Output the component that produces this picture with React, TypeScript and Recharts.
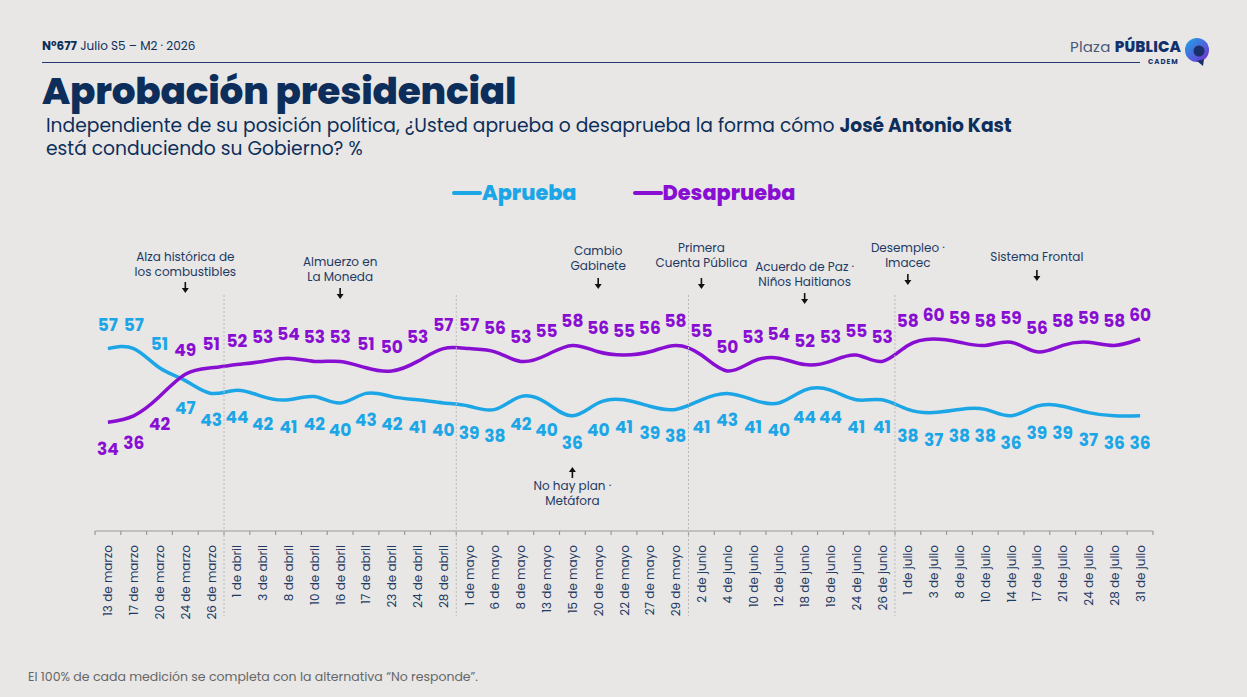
import React from "react";
import { LineChart, Line, XAxis, YAxis, LabelList, ReferenceDot } from "recharts";

const dates = [
  "13 de marzo", "17 de marzo", "20 de marzo", "24 de marzo", "26 de marzo",
  "1 de abril", "3 de abril", "8 de abril", "10 de abril", "16 de abril", "17 de abril", "23 de abril", "24 de abril", "28 de abril",
  "1 de mayo", "6 de mayo", "8 de mayo", "13 de mayo", "15 de mayo", "20 de mayo", "22 de mayo", "27 de mayo", "29 de mayo",
  "2 de junio", "4 de junio", "10 de junio", "12 de junio", "18 de junio", "19 de junio", "24 de junio", "26 de junio",
  "1 de julio", "3 de julio", "8 de julio", "10 de julio", "14 de julio", "17 de julio", "21 de julio", "24 de julio", "28 de julio", "31 de julio",
];

const aprueba = [
  57, 57, 51, 47, 43,
  44, 42, 41, 42, 40, 43, 42, 41, 40,
  39, 38, 42, 40, 36, 40, 41, 39, 38,
  41, 43, 41, 40, 44, 44, 41, 41,
  38, 37, 38, 38, 36, 39, 39, 37, 36, 36,
];

const desaprueba = [
  34, 36, 42, 49, 51,
  52, 53, 54, 53, 53, 51, 50, 53, 57,
  57, 56, 53, 55, 58, 56, 55, 56, 58,
  55, 50, 53, 54, 52, 53, 55, 53,
  58, 60, 59, 58, 59, 56, 58, 59, 58, 60,
];

const monthStarts = ["1 de abril", "1 de mayo", "2 de junio", "1 de julio"];

const annotationDates = ["24 de marzo", "16 de abril", "20 de mayo", "2 de junio", "18 de junio", "1 de julio", "17 de julio", "15 de mayo"];
const annotationTexts = [
  ["Alza histórica de", "los combustibles"],
  ["Almuerzo en", "La Moneda"],
  ["Cambio", "Gabinete"],
  ["Primera", "Cuenta Pública"],
  ["Acuerdo de Paz ·", "Niños Haitianos"],
  ["Desempleo ·", "Imacec"],
  ["Sistema Frontal"],
  ["No hay plan ·", "Metáfora"],
];
// layout: first text line y, arrow top y, arrow direction
const annotationLayout = [
  { textY: 256, arrowY: 282, up: false },
  { textY: 261, arrowY: 288, up: false },
  { textY: 250, arrowY: 278, up: false },
  { textY: 247, arrowY: 278, up: false },
  { textY: 266, arrowY: 293, up: false },
  { textY: 247, arrowY: 274, up: false },
  { textY: 256, arrowY: 270, up: false },
  { textY: 485, arrowY: 467, up: true },
];

const W = 1247;
const H = 697;
const PLOT_LEFT = 95;
const PLOT_RIGHT = 1153;
const AXIS_Y = 531;
const X_AXIS_H = 100;
const STEP = (PLOT_RIGHT - PLOT_LEFT) / dates.length;

const NAVY = "#0d2e5a";
const BLUE = "#1ca6e6";
const PURPLE = "#880fd2";
const FONT = "Poppins, Inter, 'Noto Sans', sans-serif";

const data = dates.map((d, i) => ({ date: d, aprueba: aprueba[i], desaprueba: desaprueba[i] }));

const XTick = (props: any) => {
  const { x, y, payload, index } = props;
  const ay = y - 14;
  const bx = x - STEP / 2;
  const isLast = index === dates.length - 1;
  const sep = monthStarts.includes(payload.value);
  return (
    <g>
      <line x1={bx} y1={ay} x2={bx} y2={ay + 4} stroke="#9a9a9a" strokeWidth={1.2} />
      {isLast && <line x1={x + STEP / 2} y1={ay} x2={x + STEP / 2} y2={ay + 4} stroke="#9a9a9a" strokeWidth={1.2} />}
      {sep && <line x1={bx} y1={ay - 236} x2={bx} y2={ay + 85} stroke="#b9b9b9" strokeWidth={1} strokeDasharray="2 2" />}
      <text
        x={0}
        y={0}
        transform={`translate(${x + 4.5},${ay + 14}) rotate(-90)`}
        textAnchor="end"
        fontSize={12}
        fill="#1e3a63"
        fontFamily={FONT}
      >
        {payload.value}
      </text>
    </g>
  );
};

const makeLabel = (own: number[], other: number[], color: string) => (props: any) => {
  const { x, y, index } = props;
  const above = own[index] >= other[index];
  const ly = above ? y - 24 : y + 27;
  return (
    <text
      x={x}
      y={ly}
      textAnchor="middle"
      dominantBaseline="central"
      fontSize={17}
      fontWeight={700}
      fill={color}
      fontFamily={FONT}
    >
      {own[index]}
    </text>
  );
};

const makeAnnotation = (i: number) => (props: any) => {
  const { cx } = props;
  const lay = annotationLayout[i];
  const lines = annotationTexts[i];
  const ax = cx;
  const arrow = lay.up ? (
    <g>
      <line x1={ax} y1={lay.arrowY + 4} x2={ax} y2={lay.arrowY + 11} stroke="#111" strokeWidth={1.6} />
      <path d={`M${ax - 3.5},${lay.arrowY + 5} L${ax + 3.5},${lay.arrowY + 5} L${ax},${lay.arrowY} Z`} fill="#111" />
    </g>
  ) : (
    <g>
      <line x1={ax} y1={lay.arrowY} x2={ax} y2={lay.arrowY + 7} stroke="#111" strokeWidth={1.6} />
      <path d={`M${ax - 3.5},${lay.arrowY + 6} L${ax + 3.5},${lay.arrowY + 6} L${ax},${lay.arrowY + 11} Z`} fill="#111" />
    </g>
  );
  return (
    <g>
      {lines.map((t, k) => (
        <text
          key={k}
          x={ax}
          y={lay.textY + k * 15}
          textAnchor="middle"
          dominantBaseline="central"
          fontSize={12}
          fill="#1e3a63"
          fontFamily={FONT}
        >
          {t}
        </text>
      ))}
      {arrow}
    </g>
  );
};

export default function App() {
  return (
    <div
      style={{
        position: "absolute",
        left: 0,
        top: 0,
        width: W,
        height: H,
        background: "#e8e7e6",
        overflow: "hidden",
        fontFamily: FONT,
        color: NAVY,
      }}
    >
      <div style={{ position: "absolute", left: 0, top: 0 }}>
        <LineChart
          width={W}
          height={H}
          data={data}
          margin={{ top: 211, left: PLOT_LEFT, right: W - PLOT_RIGHT, bottom: H - AXIS_Y - X_AXIS_H }}
        >
          <XAxis
            dataKey="date"
            scale="band"
            interval={0}
            height={X_AXIS_H}
            tickLine={false}
            tickSize={4}
            tickMargin={10}
            axisLine={{ stroke: "#9a9a9a", strokeWidth: 1.2 }}
            tick={<XTick />}
          />
          <YAxis hide domain={[0, 100]} />
          <Line
            type="natural"
            dataKey="aprueba"
            stroke={BLUE}
            strokeWidth={3.5}
            dot={false}
            activeDot={false}
            isAnimationActive={false}
          >
            <LabelList dataKey="aprueba" content={makeLabel(aprueba, desaprueba, BLUE)} />
          </Line>
          <Line
            type="natural"
            dataKey="desaprueba"
            stroke={PURPLE}
            strokeWidth={3.5}
            dot={false}
            activeDot={false}
            isAnimationActive={false}
          >
            <LabelList dataKey="desaprueba" content={makeLabel(desaprueba, aprueba, PURPLE)} />
          </Line>
          {annotationDates.map((d, i) => (
            <ReferenceDot key={d} x={d} y={100} r={0} ifOverflow="visible" shape={makeAnnotation(i)} />
          ))}
        </LineChart>
      </div>

      {/* header */}
      <div style={{ position: "absolute", left: 42, top: 38, fontSize: 12, lineHeight: "16px", color: NAVY, whiteSpace: "nowrap" }}>
        <span style={{ fontWeight: 700 }}>Nº677</span> Julio S5 – M2 · 2026
      </div>
      <div style={{ position: "absolute", left: 42, top: 62, width: 1098, height: 1, background: "#23386e" }} />

      {/* logo */}
      <div style={{ position: "absolute", left: 1070, top: 38, fontSize: 15, lineHeight: "18px", color: "#2b3f6a", whiteSpace: "nowrap", letterSpacing: 0.2 }}>
        <span style={{ fontWeight: 400, color: "#4b5a78" }}>Plaza </span>
        <span style={{ fontWeight: 800, color: "#14306a" }}>PÚBLICA</span>
      </div>
      <div style={{ position: "absolute", left: 1148, top: 57, fontSize: 7, fontWeight: 700, letterSpacing: 1, color: "#14306a" }}>CADEM</div>
      <svg style={{ position: "absolute", left: 1183, top: 37 }} width={30} height={30}>
        <defs>
          <linearGradient id="lg" x1="0" y1="0" x2="1" y2="1">
            <stop offset="0%" stopColor="#1aa6e8" />
            <stop offset="100%" stopColor="#7a2bd0" />
          </linearGradient>
        </defs>
        <circle cx={14} cy={13} r={12} fill="url(#lg)" />
        <circle cx={16} cy={14} r={5.5} fill="#1b2f6a" />
        <path d="M14,24 L20,29 L21,22 Z" fill="#1b2f6a" />
      </svg>

      {/* title */}
      <div style={{ position: "absolute", left: 42, top: 68, fontSize: 37.4, fontWeight: 800, lineHeight: "46px", color: NAVY, whiteSpace: "nowrap", letterSpacing: -0.2 }}>
        Aprobación presidencial
      </div>
      <div style={{ position: "absolute", left: 46, top: 115, fontSize: 18.7, lineHeight: "22px", color: NAVY, whiteSpace: "nowrap" }}>
        Independiente de su posición política, ¿Usted aprueba o desaprueba la forma cómo <span style={{ fontWeight: 700 }}>José Antonio Kast</span>
      </div>
      <div style={{ position: "absolute", left: 46, top: 139, fontSize: 18.7, lineHeight: "20px", color: NAVY, whiteSpace: "nowrap" }}>
        está conduciendo su Gobierno? %
      </div>

      {/* legend */}
      <div style={{ position: "absolute", left: 452, top: 180, display: "flex", alignItems: "center", fontSize: 20.8, fontWeight: 800, lineHeight: "26px", whiteSpace: "nowrap" }}>
        <span style={{ display: "inline-block", width: 30, height: 4, background: BLUE, borderRadius: 2 }} />
        <span style={{ color: BLUE }}>Aprueba</span>
        <span style={{ display: "inline-block", width: 56 }} />
        <span style={{ display: "inline-block", width: 30, height: 4, background: PURPLE, borderRadius: 2 }} />
        <span style={{ color: PURPLE }}>Desaprueba</span>
      </div>

      {/* footer */}
      <div style={{ position: "absolute", left: 28, top: 669, fontSize: 12.5, lineHeight: "16px", color: "#666", whiteSpace: "nowrap" }}>
        El 100% de cada medición se completa con la alternativa “No responde”.
      </div>
    </div>
  );
}
